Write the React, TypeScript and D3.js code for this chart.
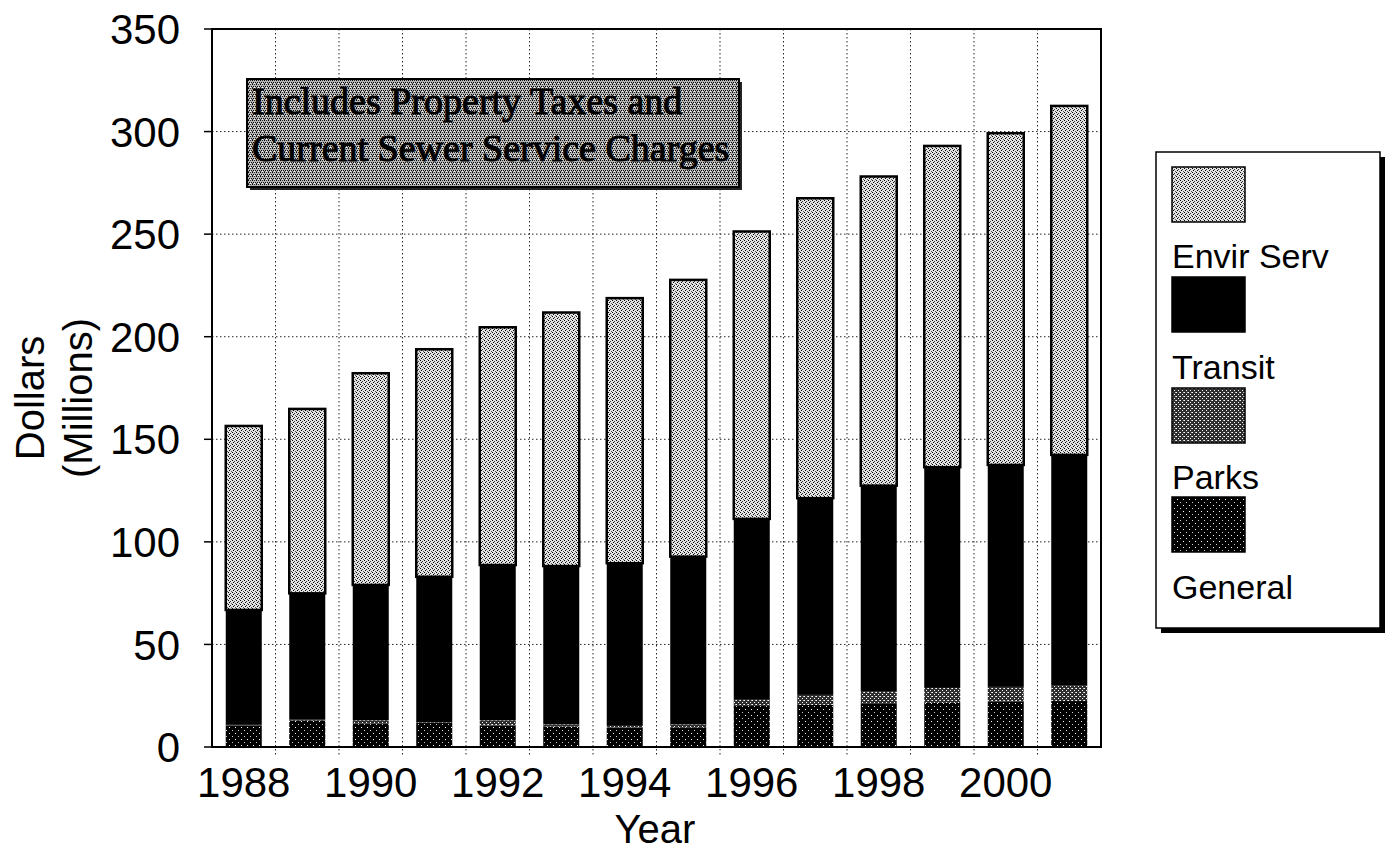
import React from "react";
import * as d3 from "d3";

// Revenue by fund, millions of dollars
const YEARS = [1988, 1989, 1990, 1991, 1992, 1993, 1994, 1995, 1996, 1997, 1998, 1999, 2000, 2001];
const GENERAL = [10.5, 13.0, 11.5, 11.7, 10.5, 10.0, 9.5, 9.6, 20.0, 20.5, 21.0, 21.5, 22.0, 22.4];
const PARKS = [0.3, 0.3, 1.5, 0.3, 2.5, 1.0, 0.8, 1.4, 3.0, 4.9, 6.3, 7.3, 7.3, 7.8];
const TRANSIT = [56.0, 61.6, 66.0, 71.0, 75.7, 77.2, 79.3, 81.8, 88.2, 95.9, 100.1, 107.6, 108.2, 112.2];
const ENVIR_SERV = [89.7, 89.9, 103.2, 110.9, 115.9, 123.6, 129.2, 134.9, 140.1, 146.2, 150.7, 156.6, 161.7, 170.1];

const SERIES_KEYS = ["General", "Parks", "Transit", "Envir Serv"];
const LEGEND_ORDER = ["Envir Serv", "Transit", "Parks", "General"];
const Y_TICKS = [0, 50, 100, 150, 200, 250, 300, 350];
const X_TICK_YEARS = [1988, 1990, 1992, 1994, 1996, 1998, 2000];
const NOTE_LINES = ["Includes Property Taxes and", "Current Sewer Service Charges"];

const FILLS: Record<string, string> = {
  "Envir Serv": "url(#stipLight)",
  Transit: "#000",
  Parks: "url(#stipParks)",
  General: "url(#stipGeneral)",
};

const SANS = "'Liberation Sans', Arial, Helvetica, sans-serif";
const SERIF = "'Liberation Serif', 'Times New Roman', serif";

export default function App() {
  const W = 1391;
  const H = 852;
  const left = 212, right = 1101, top = 29, bottom = 747;

  const rows = YEARS.map((yr, i) => ({
    year: yr,
    General: GENERAL[i],
    Parks: PARKS[i],
    Transit: TRANSIT[i],
    "Envir Serv": ENVIR_SERV[i],
  }));
  const stacked = d3.stack<any>().keys(SERIES_KEYS)(rows);

  const pad = 0.433;
  const x = d3.scaleBand<number>().domain(YEARS).range([left, right]).paddingInner(pad).paddingOuter(pad / 2);
  const y = d3.scaleLinear().domain([0, 350]).range([bottom, top]);
  const step = x.step();
  const bw = x.bandwidth();
  const boundaries = YEARS.slice(1).map((yr) => (x(yr) as number) - (step * pad) / 2);

  // Legend layout
  const legX = 1156, legY = 152, legW = 224, legH = 476;
  const swX = 1172, swW = 73;
  const swTops = [167, 277, 388, 497];
  const swH = 55;
  const labelBase = [268, 379, 489, 599];

  return (
    <svg width={W} height={H} style={{ position: "absolute", left: 0, top: 0, background: "#fff" }}>
      <defs>
        <pattern id="stipLight" width="4" height="4" patternUnits="userSpaceOnUse">
          <rect width="4" height="4" fill="#e2e2e2" />
          <rect x="0" y="0" width="1" height="1" fill="#000" />
          <rect x="2" y="1" width="1" height="1" fill="#333" />
          <rect x="1" y="2" width="1" height="1" fill="#000" />
          <rect x="3" y="3" width="1" height="1" fill="#555" />
        </pattern>
        <pattern id="stipNote" width="4" height="4" patternUnits="userSpaceOnUse">
          <rect width="4" height="4" fill="#b4b4b4" />
          <rect x="0" y="0" width="1" height="1" fill="#000" />
          <rect x="2" y="0" width="1" height="1" fill="#222" />
          <rect x="1" y="2" width="1" height="1" fill="#000" />
          <rect x="3" y="2" width="1" height="1" fill="#111" />
          <rect x="0" y="3" width="1" height="1" fill="#333" />
          <rect x="2" y="3" width="1" height="1" fill="#fff" />
        </pattern>
        <pattern id="stipParks" width="4" height="4" patternUnits="userSpaceOnUse">
          <rect width="4" height="4" fill="#2e2e2e" />
          <rect x="0" y="0" width="1" height="1" fill="#fff" />
          <rect x="2" y="2" width="1" height="1" fill="#fff" />
          <rect x="3" y="0" width="1" height="1" fill="#bbb" />
        </pattern>
        <pattern id="stipGeneral" width="6" height="6" patternUnits="userSpaceOnUse">
          <rect width="6" height="6" fill="#000" />
          <rect x="1" y="1" width="1" height="1" fill="#fff" />
          <rect x="4" y="4" width="1" height="1" fill="#ccc" />
        </pattern>
      </defs>

      {/* grid */}
      <g stroke="#000" strokeWidth={1} strokeDasharray="1.5,2.5" opacity={0.85}>
        {Y_TICKS.filter((t) => t > 0 && t < 350).map((t) => (
          <line key={"h" + t} x1={left} x2={right} y1={y(t)} y2={y(t)} />
        ))}
        {boundaries.map((bx, i) => (
          <line key={"v" + i} x1={bx} x2={bx} y1={top} y2={bottom + 8} />
        ))}
      </g>

      {/* stacked bars */}
      {stacked.map((layer) => (
        <g key={layer.key} fill={FILLS[layer.key as string]}>
          {layer.map((d, i) => (
            <rect
              key={i}
              x={x(YEARS[i])}
              width={bw}
              y={y(d[1])}
              height={y(d[0]) - y(d[1])}
              stroke={layer.key === "Envir Serv" ? "#000" : "none"}
              strokeWidth={layer.key === "Envir Serv" ? 2.5 : 0}
            />
          ))}
        </g>
      ))}

      {/* frame */}
      <rect x={left} y={top} width={right - left} height={bottom - top} fill="none" stroke="#000" strokeWidth={2} />
      <g stroke="#000" strokeWidth={1.5}>
        {Y_TICKS.map((t) => (
          <line key={"t" + t} x1={left - 8} x2={left} y1={y(t)} y2={y(t)} />
        ))}
      </g>

      {/* note box */}
      <rect x={250} y={82} width={492} height={108} fill="#222" />
      <rect x={247} y={79} width={492} height={108} fill="url(#stipNote)" stroke="#000" strokeWidth={2} />
      {NOTE_LINES.map((ln, i) => (
        <text
          key={ln}
          x={252}
          y={114 + i * 47}
          fontFamily={SERIF}
          fontSize={38}
          fill="#000"
          stroke="#000"
          strokeWidth={1}
        >
          {ln}
        </text>
      ))}

      {/* y tick labels */}
      {Y_TICKS.map((t) => (
        <text key={"yl" + t} x={180} y={y(t)} dy="0.36em" textAnchor="end" fontFamily={SANS} fontSize={42} fill="#000">
          {t}
        </text>
      ))}

      {/* x tick labels */}
      {X_TICK_YEARS.map((yr) => (
        <text
          key={"xl" + yr}
          x={(x(yr) as number) + bw / 2}
          y={797}
          textAnchor="middle"
          fontFamily={SANS}
          fontSize={42}
          fill="#000"
        >
          {yr}
        </text>
      ))}

      {/* axis titles */}
      <text x={655} y={843} textAnchor="middle" fontFamily={SANS} fontSize={40} fill="#000">
        Year
      </text>
      <text transform="translate(44,398) rotate(-90)" textAnchor="middle" fontFamily={SANS} fontSize={40} fill="#000">
        Dollars
      </text>
      <text transform="translate(92,398) rotate(-90)" textAnchor="middle" fontFamily={SANS} fontSize={40} fill="#000">
        (Millions)
      </text>

      {/* legend */}
      <rect x={legX + 5} y={legY + 5} width={legW} height={legH} fill="#000" />
      <rect x={legX} y={legY} width={legW} height={legH} fill="#fff" stroke="#000" strokeWidth={1.5} />
      {LEGEND_ORDER.map((k, i) => (
        <g key={k}>
          <rect x={swX} y={swTops[i]} width={swW} height={swH} fill={FILLS[k]} stroke="#000" strokeWidth={1.5} />
          <text x={swX} y={labelBase[i]} fontFamily={SANS} fontSize={34} fill="#000">
            {k}
          </text>
        </g>
      ))}
    </svg>
  );
}
